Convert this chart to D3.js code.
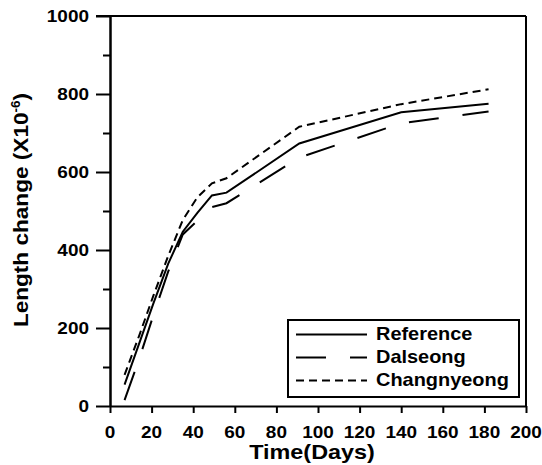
<!DOCTYPE html>
<html>
<head>
<meta charset="utf-8">
<script src="https://cdn.jsdelivr.net/npm/d3@7"></script>
<style>
  html, body { margin: 0; padding: 0; background: #fff; }
  svg { display: block; }
  text { font-family: "Liberation Sans", Arial, Helvetica, sans-serif; font-weight: bold; fill: #000; }
</style>
</head>
<body>
<svg id="chart" width="542" height="465"></svg>
<script>
// ---- data ----
const days = [7, 14, 21, 28, 35, 42, 49, 56, 91, 140, 182];
const referenceVals   = [55, 160, 265, 365, 447, 495, 540, 547, 673, 753, 775];
const dalseongVals    = [15, 120, 235, 345, 440, 475, 510, 520, 637, 725, 755];
const changnyeongVals = [80, 180, 285, 385, 477, 535, 571, 584, 716, 774, 812];

const seriesNames = ["Reference", "Dalseong", "Changnyeong"];
const xTicks = [0, 20, 40, 60, 80, 100, 120, 140, 160, 180, 200];
const yTicks = [0, 200, 400, 600, 800, 1000];
const yMinorTicks = [100, 300, 500, 700, 900];

// ---- layout ----
const pL = 110, pR = 526, pT = 16, pB = 406;
const svg = d3.select("#chart");
const x = d3.scaleLinear().domain([0, 200]).range([pL, pR]);
const y = d3.scaleLinear().domain([0, 1000]).range([pB, pT]);

const dashes = ["none", "30,24", "8,5"];
const seriesData = [referenceVals, dalseongVals, changnyeongVals];

// frame top & right
svg.append("line").attr("x1", pL - 14).attr("x2", pR).attr("y1", pT).attr("y2", pT)
  .attr("stroke", "#000").attr("stroke-width", 2);
svg.append("line").attr("x1", pR).attr("x2", pR).attr("y1", pT).attr("y2", pB)
  .attr("stroke", "#000").attr("stroke-width", 2);

// y axis major
const yAx = svg.append("g").attr("transform", `translate(${pL},0)`)
  .call(d3.axisLeft(y).tickValues(yTicks).tickSize(14).tickSizeOuter(0).tickFormat(""));
// y axis minor
const yAxMinor = svg.append("g").attr("transform", `translate(${pL},0)`)
  .call(d3.axisLeft(y).tickValues(yMinorTicks).tickSize(7).tickSizeOuter(0).tickFormat(""));
// x axis
const xAx = svg.append("g").attr("transform", `translate(0,${pB})`)
  .call(d3.axisBottom(x).tickValues(xTicks).tickSize(7).tickSizeOuter(0).tickFormat(""));

[yAx, yAxMinor, xAx].forEach(g => {
  g.selectAll("path.domain").attr("stroke", "#000").attr("stroke-width", 2);
  g.selectAll(".tick line").attr("stroke", "#000").attr("stroke-width", 2);
});

// tick labels
const sx = 1.15;
svg.append("g").selectAll("text").data(yTicks).join("text")
  .attr("transform", d => `translate(89,${y(d) + 6}) scale(${sx},1)`)
  .attr("text-anchor", "end")
  .style("font-size", "16.5px")
  .text(d => d);
svg.append("g").selectAll("text").data(xTicks).join("text")
  .attr("transform", d => `translate(${x(d)},${437.5}) scale(${sx},1)`)
  .attr("text-anchor", "middle")
  .style("font-size", "16.5px")
  .text(d => d);

// axis titles
svg.append("text")
  .attr("transform", `translate(312,458.5) scale(1.17,1)`)
  .attr("text-anchor", "middle")
  .style("font-size", "20px")
  .text("Time(Days)");

const yl = svg.append("text")
  .attr("transform", `translate(27.5,210) rotate(-90) scale(1.13,1)`)
  .attr("text-anchor", "middle")
  .style("font-size", "20px");
yl.append("tspan").text("Length change (X10");
yl.append("tspan").attr("dy", -8).style("font-size", "12px").text("-6");
yl.append("tspan").attr("dy", 8).text(")");

// lines
const line = d3.line().x((d, i) => x(days[i])).y(d => y(d));
svg.append("g").selectAll("path").data(seriesData).join("path")
  .attr("d", d => line(d))
  .attr("fill", "none")
  .attr("stroke", "#000")
  .attr("stroke-width", 2)
  .attr("stroke-dasharray", (d, i) => dashes[i]);

// legend
const lg = svg.append("g");
lg.append("rect").attr("x", 288).attr("y", 320).attr("width", 231).attr("height", 77)
  .attr("fill", "#fff").attr("stroke", "#000").attr("stroke-width", 2);
const rows = lg.selectAll("g.row").data(seriesNames).join("g").attr("class", "row")
  .attr("transform", (d, i) => `translate(0,${340 + i * 23})`);
rows.append("line").attr("x1", 296).attr("x2", 367).attr("y1", -5.5).attr("y2", -5.5)
  .attr("stroke", "#000").attr("stroke-width", 2)
  .attr("stroke-dasharray", (d, i) => dashes[i]);
rows.append("text").attr("transform", `translate(376,0) scale(1.14,1)`)
  .style("font-size", "17.5px")
  .text(d => d);
</script>
</body>
</html>
